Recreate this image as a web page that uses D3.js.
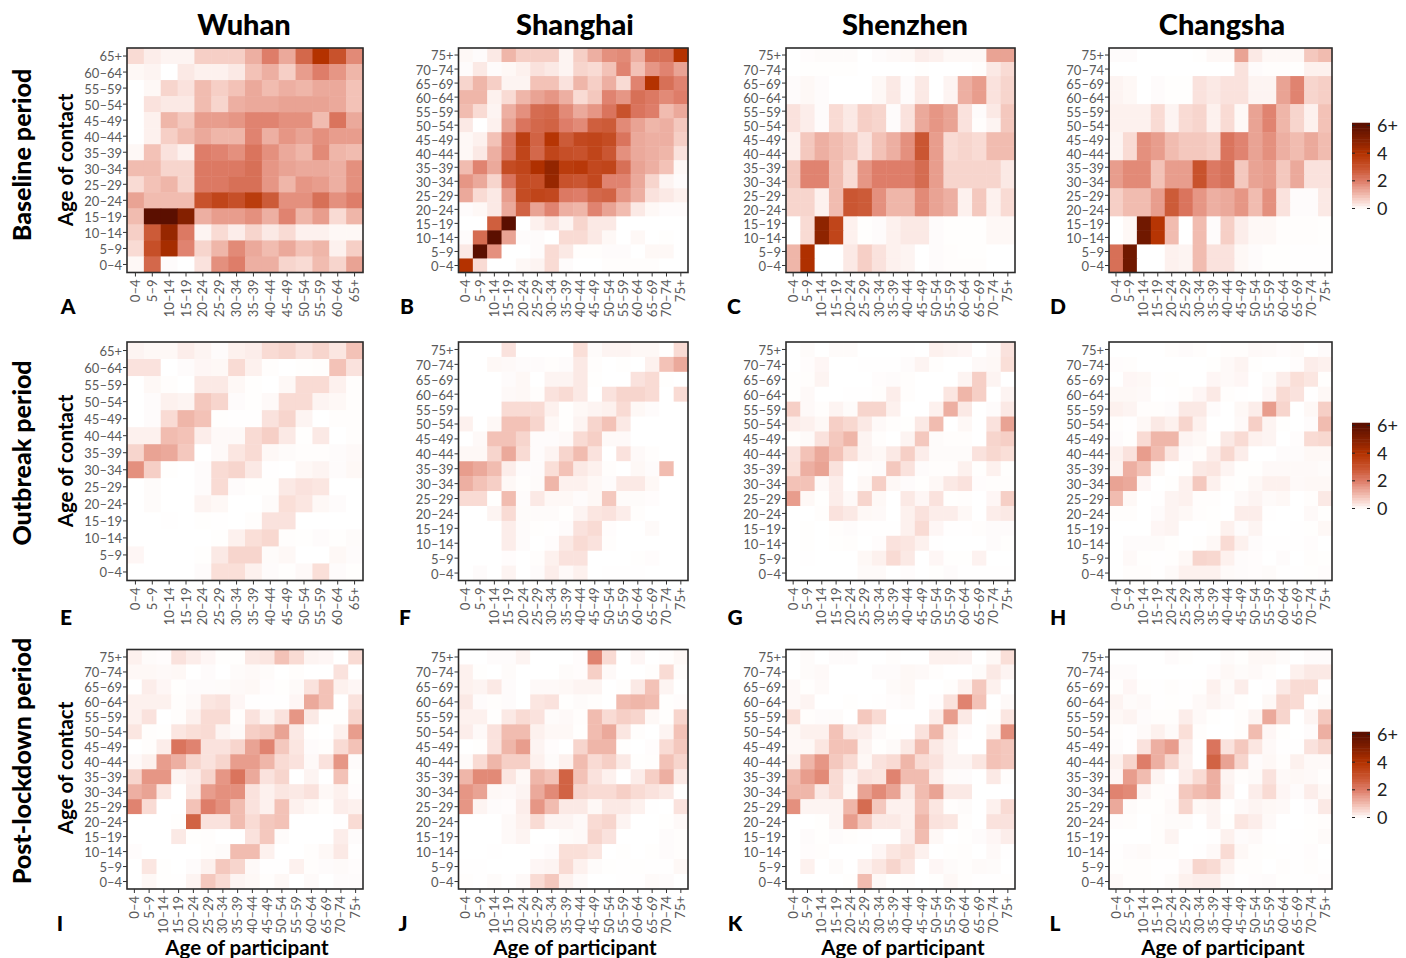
<!DOCTYPE html>
<html>
<head>
<meta charset="utf-8">
<script src="https://cdn.jsdelivr.net/npm/d3@7"></script>
<style>
  body { margin: 0; background: #fff; }
  text { font-family: Lato, "Noto Sans", sans-serif; }
</style>
</head>
<body>
<script>
const ages14 = ["0–4","5–9","10–14","15–19","20–24","25–29","30–34","35–39","40–44","45–49","50–54","55–59","60–64","65+"];
const ages16 = ["0–4","5–9","10–14","15–19","20–24","25–29","30–34","35–39","40–44","45–49","50–54","55–59","60–64","65–69","70–74","75+"];
const cities = ["Wuhan","Shanghai","Shenzhen","Changsha"];
const periods = ["Baseline period","Outbreak period","Post-lockdown period"];
const legendTicks = [0,2,4,6];

// every matrix is listed from the oldest contact row (top) to 0-4 (bottom)
const wuhanBaseline = [
[.5,.25,.15,.15,.7,.7,.7,1.2,2,1.3,2.5,4,3,1.8],
[.1,.15,0,.3,.2,.2,.3,.9,1.2,.7,1.5,2,1.6,1.1],
[0,.1,.6,.4,1,.7,.9,1.3,1,1.2,1.1,1.3,1.3,.9],
[0,.4,.3,.3,1,.6,1.2,1.3,1.3,1.4,1.4,1.4,1.3,.9],
[0,.2,1.1,.8,1.5,1.5,1.6,1.9,1.9,1.7,1.7,1,2.2,1.3],
[0,.2,.7,1,1.3,1.1,1.1,1.9,1.2,1.6,1.4,1.7,1.5,1.5],
[.1,.9,.4,.2,2,1.9,1.7,2.2,1.7,1.3,1.1,1.8,1.1,1],
[1,1,.6,.6,2.1,2.1,2.1,2.3,1.6,1.4,1.3,1.3,1.2,1.7],
[.5,.9,1.1,.6,2.1,2.1,2.3,2.3,1.6,1.1,1.6,1.5,1.2,1.7],
[1.4,1,1,1,3,3.4,3.1,3.7,2.8,1.7,1.7,2.3,1.7,2],
[1,6,6,5,1.2,1.5,1.5,1.7,1.2,1.9,1.1,1.5,.5,1.1],
[.7,2.8,4.6,2.1,.15,.5,.25,.6,.3,.5,.2,.2,.1,.1],
[.5,3.1,4.3,1.9,.6,1.1,1.8,1.3,1,1.3,.9,1.1,.2,.7],
[.1,2.5,.05,0,.4,1.7,2,1.2,1.2,.6,.5,1,.6,1.4]];
const shanghaiBaseline = [
[.1,.05,.3,1.1,.7,.7,.7,.15,.7,1.2,1.7,1.8,1.2,2.3,2.3,4],
[.05,.3,.05,.1,.2,.4,.3,.15,.6,.5,.9,1.9,.9,1.6,1.9,1.4],
[.6,1.1,.7,.15,.15,.9,.9,.4,1.1,.7,1.2,.5,1.9,4,2.3,1.9],
[1.1,1.1,.2,.5,1.1,1.4,1.6,1.2,.5,.8,1.9,1.6,2.3,2.1,1.8,2],
[1,.5,.15,1.2,1.7,2.4,2.5,1.8,1.3,1.6,2.2,3,2.2,2,1,1.3],
[.3,0,.2,1.4,2.2,2.5,2.6,2,1.8,2.7,2.8,1.8,1.4,1.1,1.2,.8],
[.1,.2,.9,2.2,3.6,2.6,3.9,2.8,3.3,3.4,3.2,2.2,1.3,1.2,1.2,.7],
[.1,.3,1.2,2.2,3.4,2.5,3.4,3.1,3,3.4,2.9,1.7,1.3,1.2,1.1,.4],
[1,1.9,1.3,3.2,3.4,4.1,4.7,3.7,3.8,3.3,3.4,2.3,1.4,1.2,.9,.1],
[1.6,1.3,.6,2.2,3.2,3.1,4.6,3,2.9,3.3,1.9,1.9,1.3,.6,.15,.05],
[1.3,.5,.3,1.5,3.2,3.4,3.3,2.1,2,2.5,2.6,1.6,1.2,.4,.3,.2],
[.05,.1,.3,1.3,2.6,1.4,1.9,1.2,1.1,1.9,1.4,1,.3,.1,.05,.05],
[0,0,2.7,6,0,.2,.4,.15,.6,.3,.3,0,0,0,0,0],
[.05,2.4,6,1.4,.05,.05,0,.5,.5,.3,.1,0,.1,0,.02,0],
[.3,6,1.7,0,0,.05,.5,.3,.03,.03,.05,.05,0,.1,.1,0],
[4,.5,0,0,.1,.15,.5,.05,0,0,.03,.03,.03,.03,0,0]];
const shenzhenBaseline = [
[0,.04,.06,.06,.06,0,.05,.08,.1,.25,.2,.1,.1,.1,1.4,1.4],
[0,.02,.02,.02,.02,0,0,0,0,.02,0,0,0,.03,.3,.5],
[.05,.1,.05,0,0,0,.1,.3,.05,.3,0,.15,1.2,1.5,.4,.6],
[.05,.1,.05,0,0,0,.1,.3,.05,.3,0,.15,1.2,1.5,.4,.6],
[.4,.25,.05,.5,.3,.7,.6,.05,.4,1.3,1.6,1.4,.4,.05,.3,.8],
[.4,.25,.05,.5,.3,.7,.6,.05,.4,1.3,1.6,1.4,.4,.03,.15,.8],
[.2,.8,1.2,1,.8,.4,.9,1.2,1.7,2.9,1.5,.5,.6,.5,1,1],
[.2,.8,1.2,1,.8,.4,.9,1.2,1.7,2.9,1.5,.5,.6,.5,1,1],
[.8,1.9,1.9,1,.5,1.6,2,2,2,2.4,1.5,.6,.6,.6,.6,.3],
[.8,1.9,1.9,1,.5,1.6,2,2,2,2.4,1.5,.6,.6,.6,.6,.3],
[.6,.6,.2,1,2.9,2.8,1.7,1.1,1.1,1.8,1.4,1.2,.2,.8,.2,.5],
[.6,.6,.2,1,2.9,2.8,1.7,1.1,1.1,1.8,1.4,1.2,.2,.8,.2,.5],
[0,.5,4.8,3.4,.2,.02,.05,.2,.3,.3,.05,.02,.02,.02,.1,.1],
[0,.5,4.8,3.4,.2,.02,.05,.2,.3,.3,.05,.02,.02,.02,.1,.1],
[1.1,4.1,0,0,.3,.7,.4,.2,.15,0,.05,.03,.02,.02,0,0],
[1.1,4.1,0,0,.3,.7,.4,.2,.15,0,.05,.03,.03,.03,0,0]];
const changshaBaseline = [
[.05,.05,0,0,0,0,.02,.1,.1,1.4,.3,.1,.1,.1,.8,1],
[0,0,0,0,0,0,0,0,0,.4,.05,.03,.03,.02,.2,.2],
[.15,.1,0,.05,.02,.02,.4,.3,.4,.4,.15,.15,1.4,1.9,.6,.7],
[.15,.1,0,.05,.02,.02,.4,.3,.4,.4,.15,.15,1.4,1.9,.6,.7],
[.2,.2,.2,.5,.15,.5,.6,.2,.5,.1,1.4,1.9,1.1,.6,.2,.9],
[.2,.2,.2,.5,.15,.5,.6,.2,.5,.1,1.4,1.9,1.1,.6,.2,.9],
[.15,.5,1.7,1.5,1,.8,.8,.7,2.2,1.9,1.4,1.7,1.2,1,1.3,1],
[.15,.5,1.7,1.5,1,.8,.8,.7,2.2,1.9,1.4,1.7,1.2,1,1.3,1],
[1.5,1.8,1.8,.9,1.5,1.5,3,2.1,2.3,.8,1.4,1.5,.8,1.3,.4,.4],
[1.5,1.8,1.8,.9,1.5,1.5,3,2.1,2.3,.8,1.4,1.5,.8,1.3,.4,.4],
[.7,1,1,1.5,2.8,2.2,1.6,1.2,1.3,1.6,1,1.7,.4,.05,.05,.3],
[.7,1,1,1.5,2.8,2.2,1.6,1.2,1.3,1.6,1,1.7,.4,.05,.05,.3],
[0,.1,5.5,3.9,1,0,1,.05,.7,.25,.1,.1,.03,.03,.03,.02],
[0,.1,5.5,3.9,1,0,1,.05,.7,.25,.1,.1,.03,.03,.03,.02],
[2.3,5.5,0,0,.2,.15,1,.4,.4,.1,.05,.02,.02,.01,.01,.01],
[2.3,5.5,0,0,.2,.15,1,.4,.4,.1,.05,.02,.02,.01,.01,.01]];
const wuhanOutbreak = [
[.15,.1,.1,.25,.15,.05,.2,.25,.5,.6,.4,.6,.35,.9],
[.4,.4,0,.05,.12,.1,.5,.2,.03,0,.02,.03,.9,.4],
[0,.1,.03,0,.3,.3,.1,.02,0,.1,.5,.5,.2,.03],
[0,.05,.2,.15,.8,.6,.05,.02,.08,.5,.5,.15,.1,.03],
[0,.05,.5,1.1,.9,.02,.01,.01,.4,.6,.15,0,.03,.03],
[.2,.2,1,.9,.25,.08,.08,.5,.7,.3,.02,.3,0,.03],
[.6,1.4,1.3,.8,0,.08,.35,.5,.1,.06,.03,.03,.05,.08],
[1.7,.7,.02,0,.05,.5,.6,.3,.01,0,.1,.15,.05,.1],
[0,.06,0,0,.05,.5,.05,.02,.02,.3,.4,.35,0,0],
[0,.06,0,0,.15,.1,0,0,.06,.45,.35,.1,.05,0],
[0,0,.01,0,.02,.01,0,.03,.4,.4,0,0,0,0],
[0,0,0,0,0,.02,.2,.45,.55,.03,.02,.05,.02,.06],
[.12,0,0,0,.02,.3,.6,.6,.06,.1,0,0,.1,.05],
[0,0,0,0,.05,.45,.45,.2,.05,.02,.08,.45,.05,.02]];
const shanghaiOutbreak = [
[0,0,0,.4,0,0,0,0,.45,.06,.15,.15,.1,.1,.02,.5],
[0,0,.1,.08,.05,.05,.03,.05,.3,.03,0,.02,0,.2,.9,1.3],
[0,0,0,.05,.1,0,.15,.15,.3,.02,0,0,.4,.5,.02,0],
[0,0,0,.08,.1,.03,.4,.5,.3,0,.4,.6,.6,.5,0,.5],
[0,0,0,.5,.5,.5,.2,.02,.1,.15,.2,.5,.1,.05,0,0],
[.2,0,.1,.9,.9,.6,.1,.02,.15,.6,.9,.3,0,0,0,0],
[0,.08,.9,.9,.6,.05,.05,.08,.5,.7,.08,.08,0,0,0,0],
[.1,.1,.6,1.3,.5,.05,.15,.6,1,.4,0,.4,.08,.03,0,0],
[1.5,1.3,1,.25,.05,.05,.45,.9,.3,.2,.03,0,.1,.05,1,0],
[1.2,.9,.7,.1,.03,.06,1.1,.2,.2,.1,.05,.3,.3,.1,0,0],
[.5,.5,.02,1,.05,.3,.1,.1,.05,.1,.8,.06,.06,.04,0,0],
[0,0,.15,.5,.06,.06,.06,.02,.15,.35,.4,.25,.03,0,0,0],
[0,0,0,.25,.05,.02,.01,.05,.4,.5,.04,0,0,.07,0,0],
[0,0,0,.25,.05,0,.04,.3,.5,.4,.03,0,0,0,0,0],
[0,0,0,.04,0,.03,.2,.4,.4,0,0,0,.02,.04,0,0],
[0,.05,0,.15,0,.05,.25,.08,.2,0,.01,.01,.01,0,0,0]];
const shenzhenOutbreak = [
[0,.06,0,.06,.06,0,0,0,.01,0,.2,.15,.12,0,.08,.4],
[0,.04,.12,0,0,.01,.01,.01,.05,.15,.03,0,0,.08,.1,.45],
[.02,.03,.15,0,0,0,.04,.05,.03,0,0,0,.15,.7,.15,0],
[.02,.08,0,0,.01,.01,.03,.25,.03,0,0,.35,1.1,.7,0,.15],
[.7,.08,.03,.15,.06,.6,.6,.2,0,0,.2,1.2,.3,0,.05,.3],
[.25,.2,.1,.7,.55,.3,.08,.03,.02,.3,1,0,.1,0,.4,1.4],
[.03,.07,.4,.8,1.1,.15,.03,0,.15,.8,.06,.03,.03,0,.6,.7],
[.4,.9,1.3,.9,.45,.15,.1,.3,.7,.25,.06,.06,.06,.4,.55,.45],
[.45,1.2,1.4,.4,0,.03,.05,.8,.4,.05,.03,.03,.2,.02,.2,.02],
[.9,.9,.08,.25,0,.1,.7,.1,.05,.02,.1,.3,.4,.04,.03,.03],
[1.5,.1,.02,.25,.08,.6,.1,0,.3,.12,.4,.02,.03,0,.12,.7],
[0,0,.03,.4,.3,.1,.08,0,.2,.4,.25,.25,.1,0,.25,.3],
[0,.02,0,.03,.05,.01,.01,.01,.2,.5,.12,.01,.01,.03,.05,.05],
[0,.02,0,.02,.03,0,.04,.4,.35,.2,.01,0,0,0,.05,.02],
[0,.01,0,0,0,.1,.2,.5,.3,0,.12,.02,.02,.18,0,0],
[0,0,0,0,0,.07,.07,0,.04,0,.02,.05,.01,.01,.01,.01]];
const changshaOutbreak = [
[0,0,0,0,.03,.05,.03,0,.03,.03,.08,.07,.04,.07,0,.05],
[.04,.03,0,0,0,0,0,.02,.08,.15,.02,0,0,.04,.25,.2],
[0,.12,.1,.01,.02,0,0,.12,.08,.12,0,.06,.25,.45,.35,.02],
[.1,.1,.08,0,.01,.03,.12,.3,.03,.01,0,.12,.5,.4,.01,.1],
[.2,.15,.03,.03,.05,.3,.3,.05,0,.1,.25,1.5,.6,0,.1,.7],
[.03,.01,.1,.3,.2,.6,.2,0,0,.08,.7,.15,.02,0,.05,1],
[.05,.02,.5,1.1,1.1,.15,.1,.02,.3,.5,.2,.15,0,.04,.5,.55],
[.2,.4,1.5,1,.35,.05,.03,.25,.55,.25,0,0,.05,.05,.1,.1],
[.15,1.2,.9,.1,0,.02,.3,.35,.15,.02,.02,.08,.08,.08,.08,.06],
[1.4,1.3,.12,0,.02,.2,.8,.2,.03,.02,.1,.2,.2,.08,.1,.1],
[1,.1,0,.01,.15,.2,.03,.03,0,.08,.15,.07,.1,0,.03,.3],
[.03,.03,0,.05,.15,.1,.03,.02,0,.25,.25,.01,0,0,.08,.02],
[0,0,0,.12,.15,0,0,.02,.2,.05,.15,0,0,.01,.02,.1],
[0,.05,.05,.06,.02,0,.02,.1,.5,.2,.05,.01,.01,.01,.04,0],
[0,.08,.02,.01,.02,.1,.6,.55,.2,.05,.04,0,.05,0,.03,.02],
[0,.03,.03,.01,.07,.2,.2,.2,.07,.05,.04,.06,.01,.01,.02,.04]];
const wuhanPost = [
[.2,.06,.04,.4,.25,.12,.02,.02,.3,.35,.9,.5,.15,.12,0,.5],
[.1,.1,.08,.1,0,.05,0,.06,.08,.06,0,.03,0,0,.4,0],
[0,.25,.12,.02,.05,.05,.06,.08,.1,.04,.02,.07,.4,.9,.2,.12],
[.2,.2,.2,.03,.08,.35,.4,.12,.01,.01,.01,.12,1.3,.9,0,.4],
[.2,.4,0,.03,.2,.5,.5,.03,.4,.15,.4,1.6,.3,.02,.02,.6],
[.35,.03,.02,.35,.45,.5,.15,.07,.7,.8,1.4,.3,.02,0,.2,1.5],
[0,.03,.25,2.2,1.9,.4,.4,.6,1.4,1.9,.8,.35,.05,.03,.5,.9],
[.08,.2,1.5,1.2,.6,.4,.6,1.5,1.5,1.1,.5,.4,.08,.4,1.6,.06],
[.6,1.6,1.6,.15,.25,.6,1.6,2.2,1.3,.4,.6,0,.15,0,.9,.02],
[1.2,1.4,.35,0,.3,1.5,1.7,1.7,.4,.2,.35,.3,.4,.1,.2,.04],
[1.9,.5,0,0,.9,2,1.7,1,.4,.2,.9,.2,.1,.03,.25,.2],
[0,0,0,.02,2.6,.4,.4,1,.5,.8,.9,0,0,0,.01,.5],
[0,0,0,.3,.02,.03,0,0,.4,.8,.06,0,0,0,.25,.05],
[.04,0,0,0,0,.03,.06,1,1,.2,0,0,.03,.1,.3,.01],
[0,.35,.02,0,.05,.2,.8,.6,.08,.01,.01,.2,.03,.05,.07,.04],
[0,.1,.02,.01,.15,.8,.5,.15,.1,.03,.1,0,.07,0,.05,.05]];
const shanghaiPost = [
[0,0,.05,.05,.15,0,0,0,.04,1.9,.5,0,.12,0,.03,.1],
[.2,.02,0,.06,0,0,0,.06,.04,.7,.08,0,0,.03,.5,.06],
[.2,.15,.3,.05,0,.08,.08,.1,.15,.15,0,.03,.3,.9,.15,0],
[.3,.05,.03,.05,0,.35,.4,.02,.06,.03,0,1,1.1,1,.02,.04],
[.2,.2,.02,.3,.5,.4,.06,.08,.03,1,.5,.7,.6,.1,.02,.6],
[.25,.08,.4,1,1,.2,.1,.1,.02,1,1.3,.35,.03,0,.15,.9],
[0,.02,.4,1.1,1.5,.15,.04,0,.6,1.1,1.1,.02,0,.04,.5,.8],
[.07,.5,1.1,.7,.7,.2,.06,.2,1,.5,.7,.3,.02,.03,.9,.6],
[1.1,1.8,1.8,.35,.1,1.1,.9,2.6,.9,.4,.2,0,.25,.7,1.2,.3],
[1.6,1.4,.1,.08,.15,1.3,1.8,2.6,.6,.5,.5,.7,.5,.4,.3,.02],
[1.6,.15,.05,.04,.25,1.6,1,.3,.3,.1,.3,.3,.2,.01,0,.4],
[0,0,0,.08,.2,.5,.15,.15,.08,.5,.6,.15,0,0,.02,.08],
[0,0,0,.08,.15,0,0,.06,.08,.6,.4,0,0,0,.05,.03],
[0,0,.01,0,0,.01,.05,.45,.45,.35,0,.02,0,.02,.05,.03],
[.01,.01,0,0,0,.12,.15,.5,.2,.06,.02,.01,.02,.01,.01,.1],
[.03,.01,.06,.01,.08,.5,.8,.2,.07,0,0,.01,.01,.07,.05,0]];
const shenzhenPost = [
[0,.06,0,.05,.05,0,0,.03,0,0,.2,.2,.18,0,.1,.45],
[0,.06,.08,0,0,0,.05,.05,.1,.08,.03,0,0,.06,.3,.15],
[.08,.02,.07,0,0,0,0,.07,.1,0,0,.03,.2,.8,.2,0],
[.08,.15,0,0,.02,0,.01,.04,.07,0,.04,.4,1.9,.9,0,.08],
[.45,.03,.05,.06,0,.8,.5,0,0,0,.25,1.5,.3,0,.02,.35],
[.1,.2,.2,.9,.3,.25,.07,.02,.01,.4,1.1,.2,.04,0,.2,1.7],
[.1,.1,.35,.9,.9,.15,.02,.07,.3,1,.3,.15,0,0,.9,.8],
[.2,1.1,1.6,.8,.5,.1,.4,.5,1.1,.5,.4,.15,.15,.35,.9,.8],
[1,1.5,1.8,.5,.15,.4,.35,1.9,1,1,.25,.06,.05,0,.3,.03],
[1.1,1.1,.3,.5,.1,1.4,1.8,1.4,.3,1,1.4,.3,.3,0,0,0],
[1.7,.15,.15,.15,1.1,2.4,.8,.2,.2,.9,.35,.03,.06,0,.2,.5],
[0,0,.02,.15,1.5,.8,.3,.3,.2,1.1,.4,.35,.03,0,.4,.4],
[0,.05,.02,.05,.03,.01,0,0,.25,1,.1,0,.02,.05,.12,.25],
[0,.04,.03,0,0,0,.12,.35,.45,.2,0,.02,.03,0,.08,.01],
[0,.2,0,.06,0,.2,.35,.6,.35,0,.12,.06,.03,.07,.06,0],
[0,0,0,0,.02,1,.1,.02,.03,0,.02,.1,.03,.01,.01,.02]];
const changshaPost = [
[0,0,0,0,.05,.02,0,0,.06,.02,.1,.1,.06,0,.05,.05],
[.05,.05,0,0,0,0,0,.04,.1,.06,.08,.03,0,.2,.3,.3],
[.02,.12,.02,.01,.03,.01,.02,.2,.06,.25,0,.01,.3,.5,.5,.01],
[.15,.06,.08,.01,.02,.01,.08,.15,.08,.02,0,.1,.6,.5,.01,.06],
[.1,.15,.05,.03,.03,.25,.08,.02,0,.03,.15,1.3,.6,0,.15,.8],
[.03,.01,.07,.2,.07,.45,.03,0,0,.03,1,.12,.02,0,.05,1.2],
[.05,.01,.4,1.2,1.5,.25,0,2.2,.4,.8,.35,.08,.01,.01,.4,.6],
[.2,.6,2,1.2,.6,.2,0,2.6,1.4,.6,.05,.1,.03,.2,.08,.08],
[.12,1.5,1,.15,0,.25,.5,1.2,.15,.03,.07,.4,.08,.1,.08,.03],
[1.9,1.8,.15,.03,.04,.8,1,1.2,.2,0,.25,.5,.12,.05,.25,.1],
[1.3,.06,.02,.02,.08,.6,.1,.15,0,.08,.15,.1,.08,0,.05,.3],
[.04,.03,0,.03,.06,.06,0,.15,.02,.35,.25,.08,0,0,.02,.03],
[0,0,0,.03,.15,0,0,.01,.2,.05,.08,.01,0,.01,.02,.07],
[.01,.05,.07,.03,.03,0,.01,.08,.5,.1,.03,.02,.01,.01,.04,0],
[.02,.03,.03,.01,.01,.12,.6,.5,.2,.03,.03,0,.03,.01,.03,.01],
[.08,.03,.03,.01,.06,.2,.25,.25,.06,.01,.04,.05,.02,.01,.01,.04]];

const width = 1406, height = 958;
const colX = [[127,363],[458.5,688],[786,1015],[1109,1332]];
const rowY = [[48,272.5],[342,580.5],[649.5,889]];

const color = d3.scaleLinear()
  .domain([0,.5,1,2,3,4,5,6])
  .range(["#ffffff","#f9dbd4","#f1bcb0","#de7d69","#c8522c","#b43200","#842000","#5b0f00"])
  .clamp(true);

const svg = d3.select("body").append("svg")
  .attr("width", width)
  .attr("height", height);

const panels = [
  {m: wuhanBaseline, ages: ages14, letter: "A", lx: 68},
  {m: shanghaiBaseline, ages: ages16, letter: "B", lx: 407},
  {m: shenzhenBaseline, ages: ages16, letter: "C", lx: 734},
  {m: changshaBaseline, ages: ages16, letter: "D", lx: 1058},
  {m: wuhanOutbreak, ages: ages14, letter: "E", lx: 66},
  {m: shanghaiOutbreak, ages: ages16, letter: "F", lx: 405},
  {m: shenzhenOutbreak, ages: ages16, letter: "G", lx: 735},
  {m: changshaOutbreak, ages: ages16, letter: "H", lx: 1058},
  {m: wuhanPost, ages: ages16, letter: "I", lx: 60},
  {m: shanghaiPost, ages: ages16, letter: "J", lx: 403},
  {m: shenzhenPost, ages: ages16, letter: "K", lx: 735},
  {m: changshaPost, ages: ages16, letter: "L", lx: 1055}
];
const letterY = [314, 625, 931];

panels.forEach((p, i) => {
  const col = i % 4, row = Math.floor(i / 4);
  const x = d3.scaleBand().domain(p.ages).range(colX[col]);
  const y = d3.scaleBand().domain(p.ages).range([rowY[row][1], rowY[row][0]]);
  const g = svg.append("g").attr("class", "panel");

  p.m.forEach((vals, r) => {
    const rowAge = p.ages[p.ages.length - 1 - r];
    g.selectAll(null)
      .data(vals)
      .enter().append("rect")
      .attr("x", (d, c) => x(p.ages[c]))
      .attr("y", y(rowAge))
      .attr("width", x.bandwidth() + .5)
      .attr("height", y.bandwidth() + .5)
      .attr("fill", d => color(d));
  });

  g.append("rect")
    .attr("x", colX[col][0]).attr("y", rowY[row][0])
    .attr("width", colX[col][1] - colX[col][0])
    .attr("height", rowY[row][1] - rowY[row][0])
    .attr("fill", "none").attr("stroke", "#2b2b2b").attr("stroke-width", 1.6);

  const yAxis = g.append("g")
    .attr("transform", `translate(${colX[col][0]},0)`)
    .call(d3.axisLeft(y).tickSize(4).tickPadding(1));
  const xAxis = g.append("g")
    .attr("transform", `translate(0,${rowY[row][1]})`)
    .call(d3.axisBottom(x).tickSize(4).tickPadding(1));
  xAxis.selectAll("text")
    .attr("transform", "rotate(-90)")
    .attr("x", -7).attr("y", 0).attr("dy", ".35em")
    .style("text-anchor", "end");
  yAxis.selectAll("text").attr("dy", ".42em");
  [xAxis, yAxis].forEach(a => {
    a.select(".domain").remove();
    a.selectAll("line").attr("stroke", "#333");
    a.selectAll("text").attr("fill", "#5a5a5a").style("font-size", "13px");
  });

  svg.append("text")
    .attr("x", p.lx).attr("y", letterY[row])
    .attr("text-anchor", "middle")
    .style("font-size", "21px").style("font-weight", 900)
    .text(p.letter);
});

// city titles
const titleX = [244, 575, 905, 1222];
cities.forEach((c, i) => {
  svg.append("text")
    .attr("x", titleX[i]).attr("y", 35)
    .attr("text-anchor", "middle")
    .style("font-size", "29px").style("font-weight", 900)
    .text(c);
});

// period labels and y title
const periodY = [155, 453, 761];
const contactY = [160, 461, 768];
periods.forEach((d, i) => {
  svg.append("text")
    .attr("transform", `translate(31,${periodY[i]}) rotate(-90)`)
    .attr("text-anchor", "middle")
    .style("font-size", "25px").style("font-weight", 900)
    .text(d);
  svg.append("text")
    .attr("transform", `translate(73,${contactY[i]}) rotate(-90)`)
    .attr("text-anchor", "middle")
    .style("font-size", "20.5px").style("font-weight", 700)
    .text("Age of contact");
});

const partX = [247, 575, 903, 1223];
partX.forEach(px => {
  svg.append("text")
    .attr("x", px).attr("y", 955)
    .attr("text-anchor", "middle")
    .style("font-size", "20.5px").style("font-weight", 700)
    .text("Age of participant");
});

// colour legends
const legendTop = [122, 422, 731];
legendTop.forEach(top => {
  const ly = d3.scaleLinear().domain([0,6]).range([top + 86.5, top + 3.5]);
  const steps = d3.range(0, 6.2, .2);
  const lg = svg.append("g").attr("transform", "translate(1352,0)");
  lg.selectAll("rect")
    .data(steps)
    .enter().append("rect")
    .attr("x", 0).attr("width", 18)
    .attr("y", d => Math.max(top, ly(d + .2)))
    .attr("height", d => ly(d) - Math.max(top, ly(d + .2)) + .5)
    .attr("fill", d => color(d + .1));
  lg.selectAll(".tl").data(legendTicks).enter().append("line")
    .attr("x1", 0).attr("x2", 3)
    .attr("y1", d => ly(d)).attr("y2", d => ly(d))
    .attr("stroke", "#222");
  lg.selectAll(".tr").data(legendTicks).enter().append("line")
    .attr("x1", 15).attr("x2", 18)
    .attr("y1", d => ly(d)).attr("y2", d => ly(d))
    .attr("stroke", "#222");
  lg.selectAll("text").data(legendTicks).enter().append("text")
    .attr("x", 25)
    .attr("y", d => ly(d))
    .attr("dy", ".36em")
    .style("font-size", "18px")
    .attr("fill", "#222")
    .text(d => d === 6 ? "6+" : d);
});
</script>
</body>
</html>
